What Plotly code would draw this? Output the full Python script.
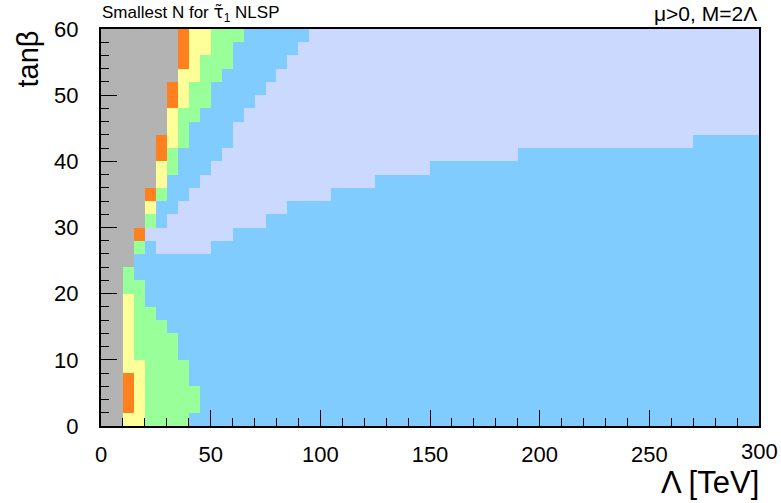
import numpy as np
import plotly.graph_objects as go

# ---------------- data ----------------
# Grid: Lambda bins of 5 TeV (0..300), tan(beta) bins of 2 (0..60)
lam_edges = list(range(0, 305, 5))
tb_edges = list(range(0, 62, 2))

# N code: 0 = no solution (grey), 1..5 = smallest N
n_codes = [0, 1, 2, 3, 4, 5]
n_colors = ["#b3b3b3", "#ccd9ff", "#80ccff", "#99ff99", "#ffff99", "#ff801f"]

# runs per tan(beta) row, bottom (0-2) to top (58-60): (N, Lambda_end)
row_runs = [
    [(0, 10), (4, 20), (3, 40), (2, 300)],                                   # 0-2
    [(0, 10), (5, 15), (4, 20), (3, 45), (2, 300)],                          # 2-4
    [(0, 10), (5, 15), (4, 20), (3, 45), (2, 300)],                          # 4-6
    [(0, 10), (5, 15), (4, 20), (3, 40), (2, 300)],                          # 6-8
    [(0, 10), (4, 20), (3, 40), (2, 300)],                                   # 8-10
    [(0, 10), (4, 15), (3, 35), (2, 300)],                                   # 10-12
    [(0, 10), (4, 15), (3, 35), (2, 300)],                                   # 12-14
    [(0, 10), (4, 15), (3, 30), (2, 300)],                                   # 14-16
    [(0, 10), (4, 15), (3, 25), (2, 300)],                                   # 16-18
    [(0, 10), (4, 15), (3, 20), (2, 300)],                                   # 18-20
    [(0, 10), (3, 20), (2, 300)],                                            # 20-22
    [(0, 10), (3, 15), (2, 300)],                                            # 22-24
    [(0, 15), (2, 300)],                                                     # 24-26
    [(0, 15), (3, 20), (2, 25), (1, 50), (2, 300)],                          # 26-28
    [(0, 15), (5, 20), (1, 60), (2, 300)],                                   # 28-30
    [(0, 20), (3, 25), (2, 30), (1, 75), (2, 300)],                          # 30-32
    [(0, 20), (4, 25), (2, 35), (1, 85), (2, 300)],                          # 32-34
    [(0, 20), (5, 25), (3, 30), (2, 40), (1, 105), (2, 300)],                # 34-36
    [(0, 25), (4, 30), (2, 45), (1, 125), (2, 300)],                         # 36-38
    [(0, 25), (4, 30), (3, 35), (2, 50), (1, 150), (2, 300)],                # 38-40
    [(0, 25), (5, 30), (3, 35), (2, 55), (1, 190), (2, 300)],                # 40-42
    [(0, 25), (5, 30), (4, 35), (3, 40), (2, 60), (1, 270), (2, 300)],       # 42-44
    [(0, 30), (4, 35), (3, 40), (2, 60), (1, 300)],                          # 44-46
    [(0, 30), (4, 35), (3, 45), (2, 65), (1, 300)],                          # 46-48
    [(0, 30), (5, 35), (4, 40), (3, 50), (2, 70), (1, 300)],                 # 48-50
    [(0, 30), (5, 35), (4, 40), (3, 50), (2, 75), (1, 300)],                 # 50-52
    [(0, 35), (4, 45), (3, 55), (2, 80), (1, 300)],                          # 52-54
    [(0, 35), (5, 40), (4, 45), (3, 60), (2, 85), (1, 300)],                 # 54-56
    [(0, 35), (5, 40), (4, 50), (3, 60), (2, 90), (1, 300)],                 # 56-58
    [(0, 35), (5, 40), (4, 50), (3, 65), (2, 95), (1, 300)],                 # 58-60
]

x_ticks = [0, 50, 100, 150, 200, 250, 300]
y_ticks = [0, 10, 20, 30, 40, 50, 60]

# ---------------- build grid ----------------
centers = [(lam_edges[i] + lam_edges[i + 1]) / 2 for i in range(len(lam_edges) - 1)]
z = []
for runs in row_runs:
    row = []
    for c in centers:
        for n, end in runs:
            if c < end:
                row.append(n)
                break
    z.append(row)

nmin, nmax = min(n_codes), max(n_codes)
span = nmax - nmin + 1
colorscale = []
for i, col in enumerate(n_colors):
    colorscale.append([i / span, col])
    colorscale.append([(i + 1) / span, col])

FONT = "Liberation Sans, Arial, sans-serif"
TICK_SIZE = 22

fig = go.Figure(go.Heatmap(
    x=lam_edges, y=tb_edges, z=z,
    zmin=nmin - 0.5, zmax=nmax + 0.5,
    colorscale=colorscale, showscale=False, hoverinfo="skip",
))

axis_common = dict(
    showline=True, linecolor="black", linewidth=2, mirror=True,
    ticks="inside", tickcolor="black", tickwidth=1,
    showgrid=False, zeroline=False,
    tickfont=dict(family=FONT, size=TICK_SIZE, color="black"),
)

TITLE_Y = 1 + (29 - 13) / 397
TITLE_SIZE = 17

# last x tick label is drawn as an annotation so that it stays inside the page
x_label_vals = x_ticks[:-1]
last_x = x_ticks[-1]

fig.update_layout(
    width=781, height=503,
    margin=dict(l=101, r=22, t=29, b=77),
    paper_bgcolor="white", plot_bgcolor="white",
    xaxis=dict(range=[0, 300], tickvals=x_ticks,
               ticktext=[str(v) for v in x_label_vals] + [""], ticklen=16,
               minor=dict(dtick=10, tick0=0, ticks="inside", ticklen=8, tickcolor="black", showgrid=False),
               ticklabelstandoff=8, **axis_common),
    yaxis=dict(range=[0, 60], tickvals=y_ticks, ticklen=16,
               minor=dict(dtick=2, tick0=0, ticks="inside", ticklen=8, tickcolor="black", showgrid=False),
               ticklabelstandoff=16, **axis_common),
    annotations=[
        dict(text=str(last_x), xref="x", yref="paper",
             x=last_x, y=(426 - 451) / 397, xanchor="center", yanchor="middle",
             showarrow=False, font=dict(family=FONT, size=TICK_SIZE, color="black")),
        dict(text="Smallest N for <span style='font-family:DejaVu Sans'>τ̃</span><sub>1</sub> NLSP",
             xref="paper", yref="paper",
             x=-0.002, y=TITLE_Y, xanchor="left", yanchor="middle",
             showarrow=False, font=dict(family=FONT, size=TITLE_SIZE, color="black")),
        dict(text="μ>0, M=2Λ", xref="paper", yref="paper",
             x=1.0, y=TITLE_Y, xanchor="right", yanchor="middle",
             showarrow=False, font=dict(family=FONT, size=21, color="black")),
        dict(text="Λ [TeV]", xref="paper", yref="paper",
             x=1.003, y=(426 - 482) / 397, xanchor="right", yanchor="middle",
             showarrow=False, font=dict(family=FONT, size=31, color="black")),
        dict(text="tanβ", xref="paper", yref="paper", textangle=-90,
             x=(27 - 101) / 658, y=1.0, xanchor="center", yanchor="top",
             showarrow=False, font=dict(family=FONT, size=29, color="black")),
    ],
)

fig.write_html("out.html")
